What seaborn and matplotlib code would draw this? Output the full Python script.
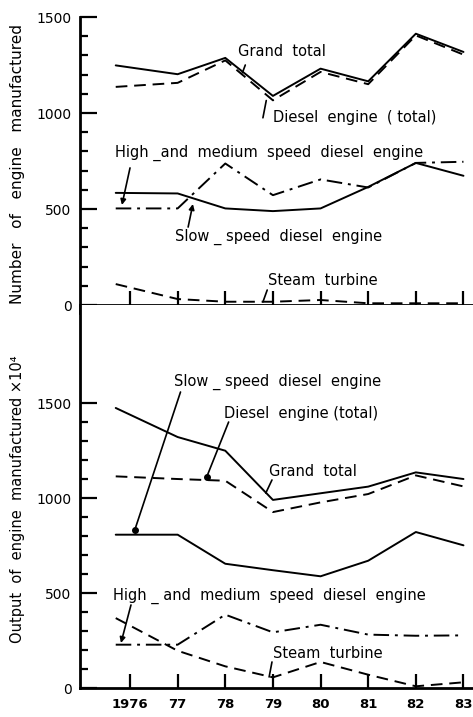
import matplotlib
matplotlib.use("Agg")
import matplotlib.pyplot as plt
from matplotlib.ticker import FixedLocator
import seaborn as sns

# ---------------- data ----------------
years = [1975.7, 1977, 1978, 1979, 1980, 1981, 1982, 1983]
year_ticks = [1976, 1977, 1978, 1979, 1980, 1981, 1982, 1983]
year_labels = ["1976", "77", "78", "79", "80", "81", "82", "83"]

# Number of engines manufactured
num_grand_total = [1248, 1202, 1287, 1089, 1231, 1165, 1413, 1318]
num_diesel_total = [1136, 1157, 1274, 1066, 1214, 1150, 1404, 1304]
num_high_medium = [503, 503, 737, 572, 654, 612, 740, 746]
num_slow_speed = [584, 581, 503, 489, 503, 615, 740, 673]
num_steam = [109, 31, 17, 17, 26, 9, 9, 9]

# Output of engines manufactured (x10^4)
out_grand_total = [1474, 1321, 1249, 990, 1025, 1060, 1135, 1100]
out_diesel_total = [1114, 1100, 1091, 926, 977, 1021, 1119, 1061]
out_slow_speed = [807, 807, 654, 620, 588, 670, 821, 751]
out_high_medium = [228, 228, 386, 293, 333, 281, 275, 277]
out_steam = [368, 196, 114, 56, 137, 70, 9, 30]

y_major = [0, 500, 1000, 1500]
y_major_labels = ["0", "500", "1000", "1500"]

top_ylabel = "Number   of   engine   manufactured"
bottom_ylabel = "Output  of  engine  manufactured ×10⁴"

# ---------------- styling ----------------
sns.set_style("white")
plt.rcParams["font.family"] = ["DejaVu Sans"]
for k in ("text.color", "axes.labelcolor", "xtick.color", "ytick.color",
          "axes.edgecolor"):
    plt.rcParams[k] = "black"

W, H = 473, 717
fig = plt.figure(figsize=(W / 100, H / 100), dpi=100)

def fx(px):
    return px / W

def fy(py):
    return 1 - py / H

ax_top = fig.add_axes([fx(80), fy(305), fx(473 - 80), (305 - 17) / H])
ax_bot = fig.add_axes([fx(80), fy(688), fx(473 - 80), (688 - 305) / H])

SOLID = "-"
DASHED = (0, (6, 3.5))
DASHDOT = (0, (8, 3, 1.5, 3))
LW = 1.4

def draw(ax, series):
    for vals, ls in series:
        sns.lineplot(x=years, y=vals, ax=ax, color="black", linewidth=LW,
                     linestyle=ls, legend=False)

draw(ax_top, [(num_grand_total, SOLID), (num_diesel_total, DASHED),
              (num_high_medium, DASHDOT), (num_slow_speed, SOLID),
              (num_steam, DASHED)])
draw(ax_bot, [(out_grand_total, SOLID), (out_diesel_total, DASHED),
              (out_slow_speed, SOLID), (out_high_medium, DASHDOT),
              (out_steam, DASHED)])

xlim = (1974.95, 1983.2)
for ax, ytop in ((ax_top, 1500), (ax_bot, 2016)):
    ax.set_xlim(*xlim)
    ax.set_ylim(0, ytop)
    ax.set_facecolor("white")
    for s in ("top", "right"):
        ax.spines[s].set_visible(False)
    for s in ("left", "bottom"):
        ax.spines[s].set_linewidth(2.0)
        ax.spines[s].set_color("black")
    ax.set_xticks(year_ticks)
    ax.yaxis.set_major_locator(FixedLocator(y_major))
    ax.set_yticklabels(y_major_labels)
    ax.yaxis.set_minor_locator(FixedLocator(list(range(100, 1500, 100))))
    ax.tick_params(axis="x", which="major", direction="in", length=10,
                   width=1.6, color="black", labelsize=9.5, pad=7,
                   bottom=True)
    ax.tick_params(axis="y", which="major", direction="in", length=12,
                   width=1.6, color="black", labelsize=10, pad=6, left=True)
    ax.tick_params(axis="y", which="minor", direction="in", length=5.5,
                   width=1.6, color="black", left=True)
    ax.set_xlabel("")
    ax.set_ylabel("")
    ax.grid(False)

ax_top.tick_params(axis="x", labelbottom=False)
ax_top.spines["left"].set_bounds(-40, 1500)
ax_bot.set_xticklabels(year_labels, fontweight="bold")

fig.text(fx(18), fy(164), top_ylabel, rotation=90, ha="center", va="center",
         fontsize=11)
fig.text(fx(18), fy(499), bottom_ylabel, rotation=90, ha="center", va="center",
         fontsize=10.5)

FS = 10.5

# ---------------- annotations: top panel ----------------
top_texts = [
    ("Grand  total", 1978.27, 1318),
    ("Diesel  engine  ( total)", 1979.0, 979),
    ("High _and  medium  speed  diesel  engine", 1975.68, 792),
    ("Slow _ speed  diesel  engine", 1976.95, 354),
    ("Steam  turbine", 1978.9, 130),
]
for t, x, y in top_texts:
    ax_top.text(x, y, t, fontsize=FS, ha="left", va="center")

def leader(ax, p0, p1, style="-", dot=False):
    ax.annotate("", xy=p1, xytext=p0,
                arrowprops=dict(arrowstyle=style, color="black", lw=1.2,
                                shrinkA=0, shrinkB=0,
                                mutation_scale=8))
    if dot:
        ax.plot([p1[0]], [p1[1]], marker="o", ms=4, color="black")

leader(ax_top, (1978.42, 1250), (1978.36, 1210))
leader(ax_top, (1978.79, 975), (1978.86, 1065))
leader(ax_top, (1976.0, 714), (1975.83, 521), style="-|>")
leader(ax_top, (1977.22, 406), (1977.32, 526), style="-|>")
leader(ax_top, (1978.88, 78), (1978.79, 16))

# ---------------- annotations: bottom panel ----------------
bot_texts = [
    ("Slow _ speed  diesel  engine", 1976.93, 1611),
    ("Diesel  engine (total)", 1977.97, 1447),
    ("Grand  total", 1978.92, 1137),
    ("High _ and  medium  speed  diesel  engine", 1975.64, 484),
    ("Steam  turbine", 1979.0, 184),
]
for t, x, y in bot_texts:
    ax_bot.text(x, y, t, fontsize=FS, ha="left", va="center")

leader(ax_bot, (1977.06, 1558), (1976.1, 832), dot=True)
leader(ax_bot, (1978.07, 1400), (1977.61, 1111), dot=True)
leader(ax_bot, (1978.98, 1095), (1978.85, 1026))
leader(ax_bot, (1976.02, 437), (1975.81, 237), style="-|>")
leader(ax_bot, (1978.98, 137), (1978.92, 58))

fig.savefig("out.png", dpi=100, facecolor="white")
